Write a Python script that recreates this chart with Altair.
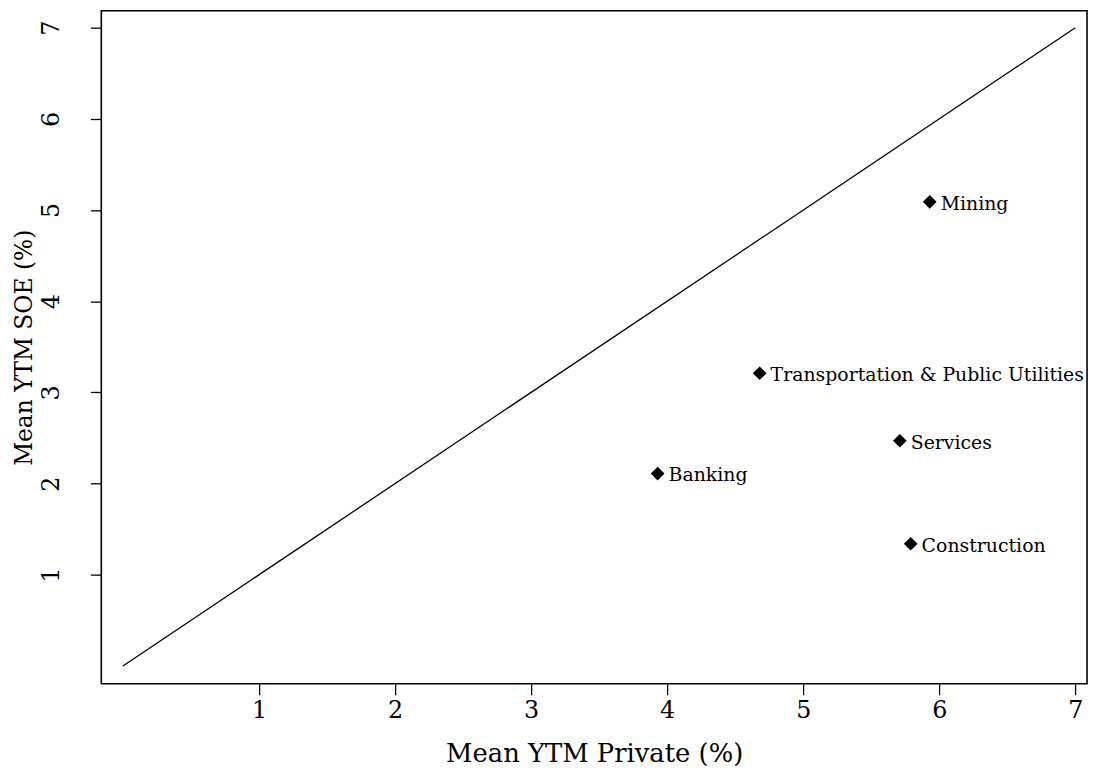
import altair as alt
import pandas as pd

sectors = ["Mining", "Transportation & Public Utilities", "Services", "Banking", "Construction"]
private_ytm = [5.93, 4.68, 5.71, 3.93, 5.79]
soe_ytm = [5.09, 3.21, 2.47, 2.11, 1.34]
line_x = [0, 7]
line_y = [0, 7]
ticks = [1, 2, 3, 4, 5, 6, 7]

pts = pd.DataFrame({"sector": sectors, "private": private_ytm, "soe": soe_ytm})
ln = pd.DataFrame({"private": line_x, "soe": line_y})

FONT = "DejaVu Serif"
xscale = alt.Scale(domain=[-0.159, 7.086], nice=False, zero=False)
yscale = alt.Scale(domain=[-0.196, 7.185], nice=False, zero=False)

xax = alt.Axis(values=ticks, format="d", title="Mean YTM Private (%)", grid=False, domain=False,
               tickColor="black", tickSize=11, tickWidth=1.3, labelFont=FONT, labelFontSize=24,
               labelColor="black", labelPadding=4, titleFont=FONT, titleFontSize=26,
               titleFontWeight="normal", titleColor="black", titlePadding=18)
yax = alt.Axis(values=ticks, format="d", title="Mean YTM SOE (%)", grid=False, domain=False,
               tickColor="black", tickSize=11, tickWidth=1.3, labelFont=FONT, labelFontSize=24,
               labelColor="black", labelAngle=270, labelAlign="center", labelBaseline="bottom",
               labelPadding=27, titleFont=FONT, titleFontSize=23.5, titleFontWeight="normal",
               titleColor="black", titleX=-65, titleY=339, titleAlign="center",
               titleBaseline="bottom", titleAngle=270)

line = alt.Chart(ln).mark_line(color="black", strokeWidth=1.3).encode(
    x=alt.X("private:Q", scale=xscale, axis=xax),
    y=alt.Y("soe:Q", scale=yscale, axis=yax),
)
points = alt.Chart(pts).mark_point(shape="diamond", filled=True, color="black", size=190, opacity=1).encode(
    x=alt.X("private:Q", scale=xscale),
    y=alt.Y("soe:Q", scale=yscale),
)
labels = alt.Chart(pts).mark_text(align="left", baseline="middle", dx=11, dy=2, font=FONT,
                                  fontSize=19, color="black").encode(
    x=alt.X("private:Q", scale=xscale),
    y=alt.Y("soe:Q", scale=yscale),
    text="sector:N",
)

chart = (line + points + labels).properties(
    width=993, height=678,
    padding={"left": 94, "top": 0, "right": 4, "bottom": 85},
    autosize=alt.AutoSizeParams(type="none"),
    background="white",
).configure_view(stroke="black", strokeWidth=1.6)

chart.save("out.html", embed_options={"renderer": "svg", "actions": False})
